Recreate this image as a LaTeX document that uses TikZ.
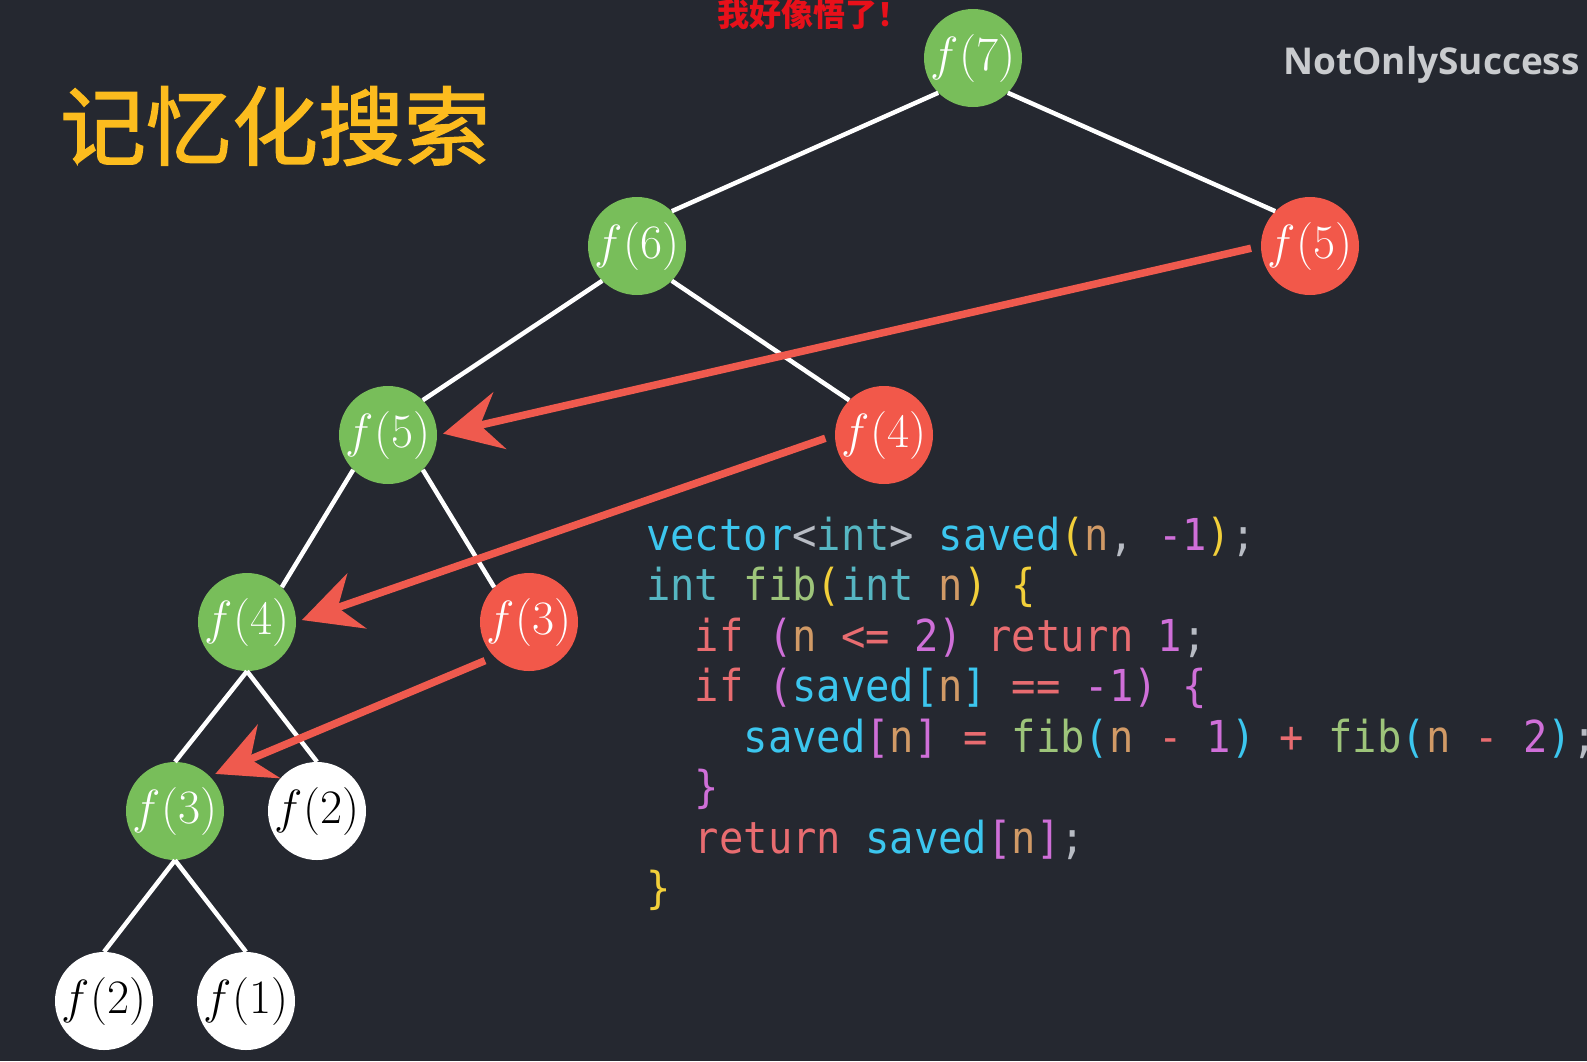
\RequirePackage{fix-cm}
\documentclass[tikz,border=0pt]{standalone}
\usepackage{fontspec}
\usepackage{xcolor}
\usetikzlibrary{arrows.meta}
\newfontfamily\cjk{Noto Sans CJK SC}
\newfontfamily\cjktitle{Noto Sans CJK SC}[FakeBold=1.6]
\newfontfamily\codefont{DejaVu Sans Mono}[FakeStretch=0.92]
\newfontfamily\markfont{Open Sans}
\definecolor{bg}{HTML}{252830}
\definecolor{nodegreen}{HTML}{78BE5A}
\definecolor{nodered}{HTML}{F2584A}
\definecolor{memored}{HTML}{EF5A4E}
\definecolor{titleyellow}{HTML}{FCBC1E}
\definecolor{ahared}{HTML}{E8101A}
\definecolor{markgray}{HTML}{C9CBCE}
\definecolor{ccyan}{HTML}{3CC6EE}
\definecolor{cteal}{HTML}{56B6C2}
\definecolor{cgreen}{HTML}{9DC47A}
\definecolor{ctan}{HTML}{D19A66}
\definecolor{cmag}{HTML}{CF6FD8}
\definecolor{csalmon}{HTML}{E86C70}
\definecolor{cyellow}{HTML}{F2CF3A}
\definecolor{cplain}{HTML}{B8BCC4}
\newcommand\tok[2]{\textcolor{#1}{#2}}
\begin{document}
\begin{tikzpicture}[x=1pt,y=-1pt,
 fnode/.style={circle,minimum size=98pt,inner sep=0pt,font=\fontsize{48}{48}\selectfont},
 solved/.style={fnode,fill=nodegreen,text=white},
 cached/.style={fnode,fill=nodered,text=white},
 leafnode/.style={fnode,fill=white,text=black},
 treeline/.style={draw=white,line width=4.5pt},
 reuse/.style={draw=memored,line width=7.5pt,-{Stealth[length=58pt,width=58pt,inset=20pt]},
               shorten <=10pt,shorten >=6pt},
 codeline/.style={anchor=base west,inner sep=0pt,font=\codefont\fontsize{44}{50}\selectfont}]
 \useasboundingbox (0,0) rectangle (1587,1061);
 \fill[bg] (0,0) rectangle (1587,1061);
 \clip (0,0) rectangle (1587,1061);
 % titles
 \node[font=\cjktitle\fontsize{86}{86}\selectfont,text=titleyellow] (title) at (275,126) {记忆化搜索};
 \node[font=\cjk\bfseries\fontsize{32}{32}\selectfont,text=ahared,inner sep=0pt] (aha) at (813,14) {我好像悟了！};
 \node[anchor=base west,inner sep=0pt,font=\markfont\bfseries\fontsize{37}{37}\selectfont,
       text=markgray] (mark) at (1283,74) {NotOnlySuccess};
 % recursion tree
 \node[solved] (n7) at (973,58) {$f(7)$};
 \node[solved] (n6) at (637,246) {$f(6)$};
 \node[cached] (r5) at (1310,246) {$f(5)$};
 \node[solved] (n5) at (388,435) {$f(5)$};
 \node[cached] (r4) at (884,435) {$f(4)$};
 \node[solved] (n4) at (247,622) {$f(4)$};
 \node[cached] (r3) at (529,622) {$f(3)$};
 \node[solved] (n3) at (175,811) {$f(3)$};
 \node[leafnode] (w2) at (317,811) {$f(2)$};
 \node[leafnode] (b2) at (104,1001) {$f(2)$};
 \node[leafnode] (b1) at (246,1001) {$f(1)$};
 \draw[treeline] (n7.south west) -- (n6.north east);
 \draw[treeline] (n7.south east) -- (r5.north west);
 \draw[treeline] (n6.south west) -- (n5.north east);
 \draw[treeline] (n6.south east) -- (r4.north west);
 \draw[treeline] (n5.south west) -- (n4.north east);
 \draw[treeline] (n5.south east) -- (r3.north west);
 \foreach \c in {n3,w2} \draw[treeline] (n4.south) -- (\c.north);
 \foreach \c in {b2,b1} \draw[treeline] (n3.south) -- (\c.north);
 % saved values reused
 \draw[reuse] (r5.west) -- (n5.east);
 \draw[reuse] (r4.west) -- (n4.east);
 \draw[reuse] (r3.south west) -- (n3.north east);
 % code
 \node[codeline] (c1) at (646,550) {\tok{ccyan}{vector}\tok{cplain}{<}\tok{cteal}{int}\tok{cplain}{>}
   \tok{ccyan}{saved}\tok{cyellow}{(}\tok{ctan}{n}\tok{cplain}{,} \tok{cmag}{-1}\tok{cyellow}{)}\tok{cplain}{;}};
 \node[codeline] (c2) at (646,600.5) {\tok{cteal}{int} \tok{cgreen}{fib}\tok{cyellow}{(}\tok{cteal}{int}
   \tok{ctan}{n}\tok{cyellow}{)} \tok{cyellow}{\{}};
 \node[codeline] (c3) at (694.7,651) {\tok{csalmon}{if} \tok{cmag}{(}\tok{ctan}{n} \tok{csalmon}{<=}
   \tok{cmag}{2}\tok{cmag}{)} \tok{csalmon}{return} \tok{cmag}{1}\tok{cplain}{;}};
 \node[codeline] (c4) at (694.7,701.5) {\tok{csalmon}{if} \tok{cmag}{(}\tok{ccyan}{saved}\tok{ccyan}{[}\tok{ctan}{n}\tok{ccyan}{]}
   \tok{csalmon}{==} \tok{cmag}{-1}\tok{cmag}{)} \tok{cmag}{\{}};
 \node[codeline] (c5) at (743.5,752) {\tok{ccyan}{saved}\tok{cmag}{[}\tok{ctan}{n}\tok{cmag}{]} \tok{csalmon}{=}
   \tok{cgreen}{fib}\tok{ccyan}{(}\tok{ctan}{n} \tok{csalmon}{-} \tok{cmag}{1}\tok{ccyan}{)} \tok{csalmon}{+}
   \tok{cgreen}{fib}\tok{ccyan}{(}\tok{ctan}{n} \tok{csalmon}{-} \tok{cmag}{2}\tok{ccyan}{)}\tok{cplain}{;}};
 \node[codeline] (c6) at (694.7,802.5) {\tok{cmag}{\}}};
 \node[codeline] (c7) at (694.7,853) {\tok{csalmon}{return} \tok{ccyan}{saved}\tok{cmag}{[}\tok{ctan}{n}\tok{cmag}{]}\tok{cplain}{;}};
 \node[codeline] (c8) at (646,903.5) {\tok{cyellow}{\}}};
\end{tikzpicture}
\end{document}
